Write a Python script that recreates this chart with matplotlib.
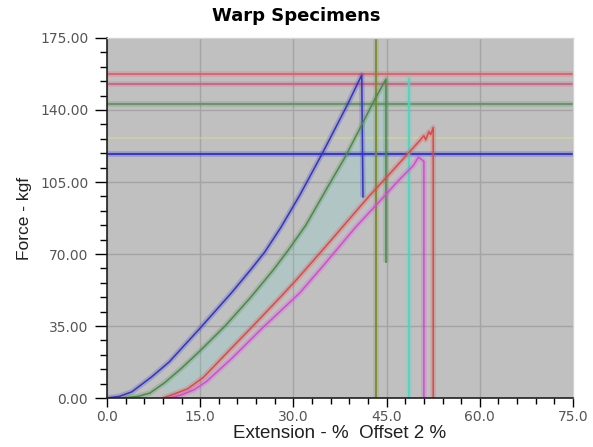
#!/usr/bin/env python3
# -*- coding: utf-8 -*-

import numpy as np
import matplotlib
matplotlib.use("Agg")
import matplotlib.pyplot as plt
from matplotlib.ticker import MultipleLocator, FormatStrFormatter

# ================= CONFIG =================
OUTPUT_FILE = "out.png"
FIGSIZE = (5.93, 4.47)
DPI = 100
BG_COLOR = "#c0c0c0"
GRID_COLOR = "#a4a4a4"
LABEL_FONT = ["Liberation Sans", "DejaVu Sans"]
# ==========================================

# Specimen curves (extension %, force kgf)
blue_ext = [0, 2, 4, 7.2, 10, 15, 20, 23.3, 25.4, 28, 31.1, 34.6, 38.6, 41.0, 41.2]
blue_force = [0, 0.8, 3, 10.3, 17.5, 34, 51, 63, 71, 83, 99, 118.6, 142, 157, 97.7]

green_ext = [2.5, 5, 6.9, 9.3, 12, 15, 19, 23, 26.7, 29.2, 32, 35.6, 38.3, 40.7, 42.8, 44.9, 44.9]
green_force = [0, 0.8, 2.4, 7.5, 14.5, 23, 35, 48.5, 62, 72, 84, 103, 117, 131, 143.5, 155, 66]

red_ext = [9, 11.2, 13, 15.5, 19, 23.8, 28.2, 30.5, 35, 39, 42.3, 45.5, 48.5, 50.3,
           51.0, 51.3, 51.8, 52.1, 52.5, 52.5]
red_force = [0, 2.4, 4.5, 10, 21, 36, 50, 57.5, 73, 87, 98.5, 109, 119, 125,
             127.5, 125.5, 129.5, 128, 131.5, 0]

magenta_ext = [10, 12, 14, 16, 20, 25, 31, 35, 40, 44, 47, 49.3, 50.1, 50.6, 51.0, 51.0]
magenta_force = [0, 1.5, 4, 8, 19, 34, 51, 65, 83, 96, 106, 113, 117, 116, 115, 0]

# Marker lines (force levels and break extensions)
hline_force = [157.5, 152.6, 143.0, 118.6]
hline_colors = ["#e05a6a", "#c8607e", "#5e9060", "#2828c8"]
vline_ext = [43.3, 48.6]
vline_top = [175, 155]
vline_colors = ["#7a8a30", "#48d8c0"]

fig = plt.figure(figsize=FIGSIZE, dpi=DPI)
ax = fig.add_axes([0.1804, 0.1096, 0.7859, 0.8054])
ax.set_facecolor(BG_COLOR)

ax.set_xlim(0, 75)
ax.set_ylim(0, 175)

# Grid
ax.xaxis.set_major_locator(MultipleLocator(15))
ax.xaxis.set_minor_locator(MultipleLocator(3))
ax.yaxis.set_major_locator(MultipleLocator(35))
ax.yaxis.set_minor_locator(MultipleLocator(7))
ax.grid(True, which="major", color=GRID_COLOR, linewidth=1.0)
ax.set_axisbelow(True)

# Cyan band between green and red specimens
band_x = np.linspace(9, 44.9, 200)
band_lo = np.interp(band_x, red_ext[:-1], red_force[:-1])
band_hi = np.interp(band_x, green_ext[:-1], green_force[:-1])
ax.fill_between(band_x, band_lo, band_hi, color="#70e0e0", alpha=0.18, linewidth=0)

# faint level line
ax.axhline(126.4, color="#d8d890", linewidth=1.2, alpha=0.6)

# Horizontal marker lines
for yv, col in zip(hline_force, hline_colors):
    ax.axhline(yv, color=col, linewidth=4, alpha=0.25)
    ax.axhline(yv, color=col, linewidth=1.2)

# Vertical marker lines
for xv, top, col in zip(vline_ext, vline_top, vline_colors):
    ax.plot([xv, xv], [0, top], color=col, linewidth=4, alpha=0.2)
    ax.plot([xv, xv], [0, top], color=col, linewidth=1.3)

# Specimen curves with soft halo
curves = [
    (blue_ext, blue_force, "#3434c0"),
    (green_ext, green_force, "#4a8a4a"),
    (magenta_ext, magenta_force, "#d848d8"),
    (red_ext, red_force, "#e04848"),
]
for xs, ys, col in curves:
    ax.plot(xs, ys, color=col, linewidth=4, alpha=0.22, solid_capstyle="butt")
    ax.plot(xs, ys, color=col, linewidth=1.1)

# Ticks
ax.xaxis.set_major_formatter(FormatStrFormatter("%.1f"))
ax.yaxis.set_major_formatter(FormatStrFormatter("%.2f"))
ax.tick_params(axis="y", which="major", direction="out", length=8.5, width=1,
               pad=5, labelsize=10, labelcolor="#555555")
ax.tick_params(axis="y", which="minor", direction="out", length=5, width=1)
ax.tick_params(axis="x", which="major", direction="out", length=6.5, width=1,
               pad=2, labelsize=10, labelcolor="#555555")
ax.tick_params(axis="x", which="minor", direction="out", length=4.3, width=1)

for side in ["left", "bottom"]:
    ax.spines[side].set_color("#202020")
    ax.spines[side].set_linewidth(1.2)
for side in ["top", "right"]:
    ax.spines[side].set_color("#d4d4d4")
    ax.spines[side].set_linewidth(1.0)

fig.suptitle("Warp Specimens", x=0.5, y=0.964, va="center",
             fontsize=13, fontweight="bold")
ax.set_xlabel("Extension - %  Offset 2 %", fontsize=13.5, color="#202020",
              labelpad=1, family=LABEL_FONT)
ax.set_ylabel("Force - kgf", fontsize=12.5, color="#202020", labelpad=6,
              family=LABEL_FONT)

plt.savefig(OUTPUT_FILE, dpi=DPI)
plt.close()
